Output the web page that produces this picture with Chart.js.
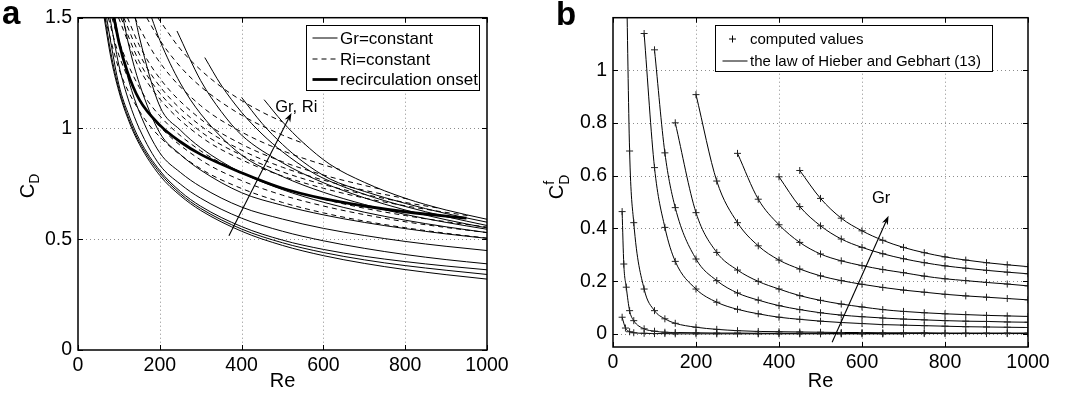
<!DOCTYPE html>
<html>
<head>
<meta charset="utf-8">
<script src="https://cdn.jsdelivr.net/npm/chart.js@4.4.1/dist/chart.umd.min.js"></script>
<style>
  body { margin: 0; background: #fff; }
  #wrap { position: relative; width: 1070px; height: 396px; font-family: "Liberation Sans", Arial, sans-serif; color: #000; }
  .pane { position: absolute; top: 0; }
  .letter { position: absolute; font-weight: bold; font-size: 33px; line-height: 1; }
  .ytitle { position: absolute; font-size: 20px; line-height: 1; white-space: nowrap; transform: translate(-50%, -50%) rotate(-90deg); }
  .ytitle sub { font-size: 14px; vertical-align: -0.3em; }
  .ss { display: inline-block; vertical-align: -0.45em; font-size: 14px; line-height: 1.05; }
  .ss span { display: block; }
</style>
</head>
<body>
<div id="wrap">
  <canvas id="chartA" class="pane" style="left:0" width="535" height="396"></canvas>
  <canvas id="chartB" class="pane" style="left:535px" width="535" height="396"></canvas>
  <div class="letter" style="left:2px;top:-4px">a</div>
  <div class="letter" style="left:556px;top:-3px">b</div>
  <div class="ytitle" style="left:29px;top:186px">C<sub>D</sub></div>
  <div class="ytitle" style="left:557px;top:187px">C<span class="ss"><span>f</span><span>D</span></span></div>
</div>
<script>
// ---- panel a : drag coefficient, [Re, C_D] pairs ----
const xTicksA = [0, 200, 400, 600, 800, 1000];
const yTicksA = [0, 0.5, 1, 1.5];

// Gr = constant (solid)
const gr1 = [[64,1.5],[80,1.323],[100,1.167],[125,1.03],[150,0.929],[200,0.788],[250,0.697],[300,0.63],[400,0.536],[500,0.472],[600,0.426],[700,0.391],[800,0.363],[900,0.34],[1000,0.32]];
const gr2 = [[66,1.5],[80,1.345],[100,1.179],[125,1.041],[150,0.939],[200,0.8],[250,0.706],[300,0.639],[400,0.546],[500,0.484],[600,0.44],[700,0.407],[800,0.381],[900,0.36],[1000,0.341]];
const gr3 = [[70,1.5],[80,1.39],[100,1.197],[125,1.057],[150,0.951],[200,0.81],[250,0.716],[300,0.649],[400,0.557],[500,0.496],[600,0.454],[700,0.423],[800,0.399],[900,0.379],[1000,0.362]];
const gr4 = [[78,1.5],[100,1.285],[125,1.119],[150,0.999],[200,0.835],[250,0.749],[300,0.685],[400,0.595],[500,0.536],[600,0.493],[700,0.459],[800,0.431],[900,0.408],[1000,0.389]];
const gr5 = [[90,1.5],[100,1.4],[125,1.21],[150,1.074],[200,0.89],[250,0.802],[300,0.737],[400,0.645],[500,0.591],[600,0.549],[700,0.517],[800,0.49],[900,0.468],[1000,0.449]];
const gr6 = [[110,1.5],[125,1.369],[150,1.203],[200,0.98],[250,0.883],[300,0.812],[400,0.71],[500,0.653],[600,0.61],[700,0.576],[800,0.548],[900,0.524],[1000,0.504]];
const gr7 = [[140,1.5],[150,1.413],[200,1.1],[250,0.993],[300,0.913],[400,0.8],[500,0.724],[600,0.667],[700,0.622],[800,0.586],[900,0.556],[1000,0.53]];
const gr8 = [[180,1.5],[200,1.398],[250,1.205],[300,1.066],[400,0.88],[500,0.783],[600,0.712],[700,0.657],[800,0.612],[900,0.576],[1000,0.545]];
const gr9 = [[242,1.44],[300,1.216],[350,1.077],[400,0.97],[500,0.845],[600,0.755],[700,0.687],[800,0.632],[900,0.588],[1000,0.551]];
const gr10 = [[310,1.32],[350,1.196],[400,1.073],[450,0.975],[500,0.895],[567,0.808],[600,0.775],[700,0.703],[800,0.648],[900,0.602],[1000,0.562]];
const gr11 = [[400,1.14],[450,1.023],[500,0.928],[550,0.85],[616,0.772],[700,0.716],[800,0.662],[900,0.616],[1000,0.577]];
const gr12 = [[455,1.13],[500,1.03],[550,0.937],[616,0.838],[700,0.757],[800,0.685],[900,0.632],[1000,0.59]];

// Ri = constant (dashed)
const ri1 = [[66,1.5],[100,1.269],[150,1.079],[200,0.962],[300,0.818],[400,0.729],[500,0.666],[600,0.619],[700,0.582],[800,0.552],[900,0.527],[1000,0.505]];
const ri2 = [[74,1.5],[100,1.331],[150,1.132],[200,1.009],[300,0.858],[400,0.765],[500,0.699],[600,0.65],[700,0.611],[800,0.579],[900,0.553],[1000,0.53]];
const ri3 = [[83,1.5],[100,1.394],[150,1.185],[200,1.057],[300,0.899],[400,0.801],[500,0.732],[600,0.681],[700,0.64],[800,0.607],[900,0.579],[1000,0.555]];
const ri4 = [[99,1.5],[150,1.271],[200,1.133],[300,0.963],[400,0.859],[500,0.785],[600,0.73],[700,0.686],[800,0.651],[900,0.621],[960,0.605]];
const ri5 = [[105,1.5],[150,1.301],[200,1.16],[300,0.986],[400,0.879],[500,0.804],[600,0.747],[700,0.703],[800,0.666],[884,0.64]];
const ri6 = [[112,1.5],[150,1.336],[200,1.19],[300,1.012],[400,0.902],[500,0.825],[600,0.767],[700,0.721],[811,0.68]];
const ri7 = [[121,1.5],[150,1.375],[200,1.226],[300,1.042],[400,0.929],[500,0.85],[600,0.79],[700,0.743],[738,0.727]];
const ri8 = [[139,1.5],[150,1.456],[200,1.298],[300,1.103],[400,0.984],[500,0.9],[600,0.836],[640,0.815]];
const ri9 = [[168,1.5],[200,1.399],[250,1.279],[300,1.189],[400,1.06],[500,0.97],[555,0.93]];
const ri10 = [[195,1.5],[250,1.359],[300,1.264],[350,1.188],[400,1.126],[450,1.074],[500,1.03]];

// recirculation onset (thick)
const onset = [[88,1.5],[100,1.39],[120,1.26],[150,1.13],[200,1.015],[250,0.94],[300,0.883],[400,0.8],[500,0.73],[600,0.683],[700,0.65],[800,0.624],[950,0.595]];

// ---- panel b : friction drag, [Re, C_D^f] pairs ----
const xTicksB = [0, 200, 400, 600, 800, 1000];
const yTicksB = [0, 0.2, 0.4, 0.6, 0.8, 1];

const cf1 = [[22,0.063],[30,0.022],[40,0.008],[50,0.004],[75,0.002],[100,0.001],[125,0.001],[150,0],[200,0],[250,0],[300,0],[350,0],[400,0],[450,0],[500,0],[550,0],[600,0],[650,0],[700,0]];
const cf2 = [[22,0.464],[26,0.265],[32,0.177],[40,0.088],[50,0.05],[75,0.019],[100,0.01],[125,0.006],[150,0.005],[200,0.004],[250,0.003],[300,0.003],[350,0.002],[400,0.002],[450,0.002],[500,0.002],[550,0.001],[600,0.001],[650,0.001],[700,0.001],[750,0.001],[800,0.001],[850,0.001],[900,0.001],[950,0.001],[1000,0.001]];
const cf3 = [[32,1.4],[40,0.694],[50,0.422],[75,0.17],[100,0.088],[125,0.057],[150,0.04],[200,0.025],[250,0.017],[300,0.012],[350,0.009],[400,0.008],[450,0.007],[500,0.006],[550,0.005],[600,0.005],[650,0.004],[700,0.004],[750,0.004],[800,0.003],[850,0.003],[900,0.003],[950,0.003],[1000,0.003]];
const cf4 = [[75,1.14],[100,0.631],[125,0.404],[150,0.275],[200,0.17],[250,0.12],[300,0.093],[350,0.076],[400,0.063],[450,0.055],[500,0.048],[550,0.043],[600,0.039],[650,0.035],[700,0.033],[750,0.031],[800,0.029],[850,0.027],[900,0.026],[950,0.025],[1000,0.024]];
const cf5 = [[100,1.078],[125,0.687],[150,0.479],[200,0.284],[250,0.202],[300,0.155],[350,0.128],[400,0.107],[450,0.092],[500,0.08],[550,0.071],[600,0.065],[650,0.06],[700,0.056],[750,0.053],[800,0.05],[850,0.048],[900,0.047],[950,0.045],[1000,0.044]];
const cf6 = [[150,0.801],[200,0.46],[250,0.309],[300,0.242],[350,0.199],[400,0.17],[450,0.145],[500,0.127],[550,0.113],[600,0.102],[650,0.092],[700,0.085],[750,0.08],[800,0.076],[850,0.073],[900,0.07],[950,0.068],[1000,0.066]];
const cf7 = [[200,0.908],[250,0.58],[300,0.422],[350,0.334],[400,0.28],[450,0.246],[500,0.22],[550,0.202],[600,0.188],[650,0.176],[700,0.166],[750,0.158],[800,0.15],[850,0.144],[900,0.139],[950,0.134],[1000,0.129]];
const cf8 = [[300,0.685],[350,0.511],[400,0.414],[450,0.347],[500,0.303],[550,0.277],[600,0.259],[650,0.244],[700,0.232],[750,0.219],[800,0.209],[850,0.202],[900,0.195],[950,0.189],[1000,0.182]];
const cf9 = [[400,0.596],[450,0.483],[500,0.41],[550,0.36],[600,0.328],[650,0.304],[700,0.285],[750,0.27],[800,0.258],[850,0.249],[900,0.241],[950,0.234],[1000,0.228]];
const cf10 = [[450,0.62],[500,0.514],[550,0.439],[600,0.391],[650,0.355],[700,0.328],[750,0.308],[800,0.292],[850,0.28],[900,0.27],[950,0.262],[1000,0.255]];

// annotation arrows, in data units [Re, value]
const arrowA = [[369, 0.516], [522, 1.07]];
const arrowB = [[528, -0.032], [664, 0.448]];

const FONT = '"Liberation Sans", Arial, sans-serif';
Chart.defaults.font.family = FONT;
Chart.defaults.color = '#000';

const toPts = pairs => pairs.map(([x, y]) => ({ x, y }));

function drawArrow(ctx, x0, y0, x1, y1) {
  const ang = Math.atan2(y1 - y0, x1 - x0), L = 9, W = 3.2;
  const c = Math.cos(ang), s = Math.sin(ang);
  ctx.beginPath();
  ctx.moveTo(x0, y0);
  ctx.lineTo(x1 - L * 0.7 * c, y1 - L * 0.7 * s);
  ctx.stroke();
  ctx.beginPath();
  ctx.moveTo(x1, y1);
  ctx.lineTo(x1 - L * c + W * s, y1 - L * s - W * c);
  ctx.lineTo(x1 - L * 0.7 * c, y1 - L * 0.7 * s);
  ctx.lineTo(x1 - L * c - W * s, y1 - L * s + W * c);
  ctx.closePath();
  ctx.fill();
}

// matlab-like box, dotted grid, inward ticks, arrow, in-axes legend
function matlabPlugin(cfg) {
  return {
    id: 'matlab',
    beforeDatasetsDraw(chart) {
      const { ctx, chartArea: a, scales: { x, y } } = chart;
      ctx.save();
      ctx.strokeStyle = '#8c8c8c';
      ctx.lineWidth = 1;
      ctx.setLineDash([1, 3]);
      ctx.beginPath();
      cfg.xTicks.forEach(v => {
        if (v <= x.min || v >= x.max) return;
        const px = Math.round(x.getPixelForValue(v)) + 0.5;
        ctx.moveTo(px, a.top); ctx.lineTo(px, a.bottom);
      });
      cfg.yTicks.forEach(v => {
        if (v <= y.min || v >= y.max) return;
        const py = Math.round(y.getPixelForValue(v)) + 0.5;
        ctx.moveTo(a.left, py); ctx.lineTo(a.right, py);
      });
      ctx.stroke();
      ctx.restore();
    },
    afterDatasetsDraw(chart) {
      const { ctx, chartArea: a, scales: { x, y } } = chart;
      ctx.save();
      ctx.strokeStyle = '#000';
      ctx.fillStyle = '#000';

      // arrow + label
      ctx.lineWidth = 1.1;
      const [[ax0, ay0], [ax1, ay1]] = cfg.arrow;
      drawArrow(ctx, x.getPixelForValue(ax0), y.getPixelForValue(ay0), x.getPixelForValue(ax1), y.getPixelForValue(ay1));
      ctx.font = '16.5px ' + FONT;
      ctx.textBaseline = 'middle';
      ctx.textAlign = 'left';
      ctx.fillText(cfg.note.text, x.getPixelForValue(cfg.note.at[0]), y.getPixelForValue(cfg.note.at[1]));

      // frame and ticks
      ctx.lineWidth = 1.5;
      ctx.strokeRect(a.left, a.top, a.right - a.left, a.bottom - a.top);
      ctx.lineWidth = 1;
      ctx.beginPath();
      cfg.xTicks.forEach(v => {
        const px = Math.round(x.getPixelForValue(v)) + 0.5;
        ctx.moveTo(px, a.bottom); ctx.lineTo(px, a.bottom - 5);
        ctx.moveTo(px, a.top); ctx.lineTo(px, a.top + 5);
      });
      cfg.yTicks.forEach(v => {
        const py = Math.round(y.getPixelForValue(v)) + 0.5;
        ctx.moveTo(a.left, py); ctx.lineTo(a.left + 5, py);
        ctx.moveTo(a.right, py); ctx.lineTo(a.right - 5, py);
      });
      ctx.stroke();

      // legend
      const lg = cfg.legend;
      const bx = Math.round(a.right - lg.right - lg.w) + 0.5, by = Math.round(a.top + lg.top) + 0.5;
      ctx.fillStyle = '#fff';
      ctx.fillRect(bx, by, lg.w, lg.h);
      ctx.lineWidth = 1;
      ctx.strokeRect(bx, by, lg.w, lg.h);
      ctx.fillStyle = '#000';
      ctx.font = lg.font + 'px ' + FONT;
      lg.items.forEach((it, i) => {
        const ry = by + lg.rows[i];
        ctx.save();
        if (it.kind === 'cross') {
          ctx.lineWidth = 1;
          ctx.beginPath();
          ctx.moveTo(bx + lg.cross - 3.5, ry); ctx.lineTo(bx + lg.cross + 3.5, ry);
          ctx.moveTo(bx + lg.cross, ry - 3.5); ctx.lineTo(bx + lg.cross, ry + 3.5);
          ctx.stroke();
        } else {
          ctx.lineWidth = it.kind === 'thick' ? 2.8 : 1;
          if (it.kind === 'dashed') ctx.setLineDash([5, 4]);
          ctx.beginPath();
          ctx.moveTo(bx + lg.sample[0], ry); ctx.lineTo(bx + lg.sample[1], ry);
          ctx.stroke();
        }
        ctx.restore();
        ctx.fillText(it.label, bx + lg.text, ry + 1);
      });
      ctx.restore();
    }
  };
}

function axes(xTicks, yTicks, yMin, yMax, yWidth, xHeight) {
  return {
    x: {
      type: 'linear', min: 0, max: 1000,
      afterBuildTicks: s => { s.ticks = xTicks.map(v => ({ value: v })); },
      afterFit: s => { s.height = xHeight; },
      ticks: { callback: v => String(v), font: { size: 19.5 }, padding: 4, maxRotation: 0, autoSkip: false },
      grid: { display: false, drawTicks: false }, border: { display: false },
      title: { display: true, text: 'Re', font: { size: 20 }, padding: { top: 0, bottom: 3 } }
    },
    y: {
      type: 'linear', min: yMin, max: yMax,
      afterBuildTicks: s => { s.ticks = yTicks.map(v => ({ value: v })); },
      afterFit: s => { s.width = yWidth; },
      ticks: { callback: v => String(v), font: { size: 19.5 }, padding: 6, autoSkip: false },
      grid: { display: false, drawTicks: false }, border: { display: false }
    }
  };
}

const lineSet = (pairs, extra) => Object.assign({
  data: toPts(pairs), borderColor: '#000', borderWidth: 1, pointRadius: 0,
  cubicInterpolationMode: 'monotone', fill: false
}, extra);

const grCurves = [gr1, gr2, gr3, gr4, gr5, gr6, gr7, gr8, gr9, gr10, gr11, gr12];
const riCurves = [ri1, ri2, ri3, ri4, ri5, ri6, ri7, ri8, ri9, ri10];

new Chart(document.getElementById('chartA'), {
  type: 'line',
  data: {
    datasets: [
      ...riCurves.map(c => lineSet(c, { borderDash: [5, 4] })),
      ...grCurves.map(c => lineSet(c)),
      lineSet(onset, { borderWidth: 2.8 })
    ]
  },
  options: {
    responsive: false, animation: false, events: [],
    layout: { padding: { left: 0, right: 48, top: 16, bottom: 0 } },
    plugins: { legend: { display: false }, tooltip: { enabled: false } },
    scales: axes(xTicksA, yTicksA, 0, 1.5, 78, 46)
  },
  plugins: [matlabPlugin({
    xTicks: xTicksA, yTicks: yTicksA, arrow: arrowA,
    note: { text: 'Gr, Ri', at: [482, 1.093] },
    legend: {
      right: 8, top: 7, w: 173, h: 65, font: 17, rows: [12.5, 33.5, 54], sample: [6, 31], text: 33.5,
      items: [
        { label: 'Gr=constant', kind: 'solid' },
        { label: 'Ri=constant', kind: 'dashed' },
        { label: 'recirculation onset', kind: 'thick' }
      ]
    }
  })]
});

const cfCurves = [cf1, cf2, cf3, cf4, cf5, cf6, cf7, cf8, cf9, cf10];

new Chart(document.getElementById('chartB'), {
  type: 'line',
  data: {
    datasets: cfCurves.map(c => lineSet(c, {
      pointRadius: 3.5, pointStyle: 'cross', pointBorderColor: '#222', pointBorderWidth: 1
    }))
  },
  options: {
    responsive: false, animation: false, events: [],
    layout: { padding: { left: 0, right: 42, top: 16, bottom: 0 } },
    plugins: { legend: { display: false }, tooltip: { enabled: false } },
    scales: axes(xTicksB, yTicksB, -0.05, 1.2, 78, 49)
  },
  plugins: [matlabPlugin({
    xTicks: xTicksB, yTicks: yTicksB, arrow: arrowB,
    note: { text: 'Gr', at: [624, 0.514] },
    legend: {
      right: 36, top: 7, w: 277, h: 46, font: 15, rows: [13.5, 35.5], sample: [7, 32], cross: 17, text: 34.5,
      items: [
        { label: 'computed values', kind: 'cross' },
        { label: 'the law of Hieber and Gebhart (13)', kind: 'line' }
      ]
    }
  })]
});
</script>
</body>
</html>
